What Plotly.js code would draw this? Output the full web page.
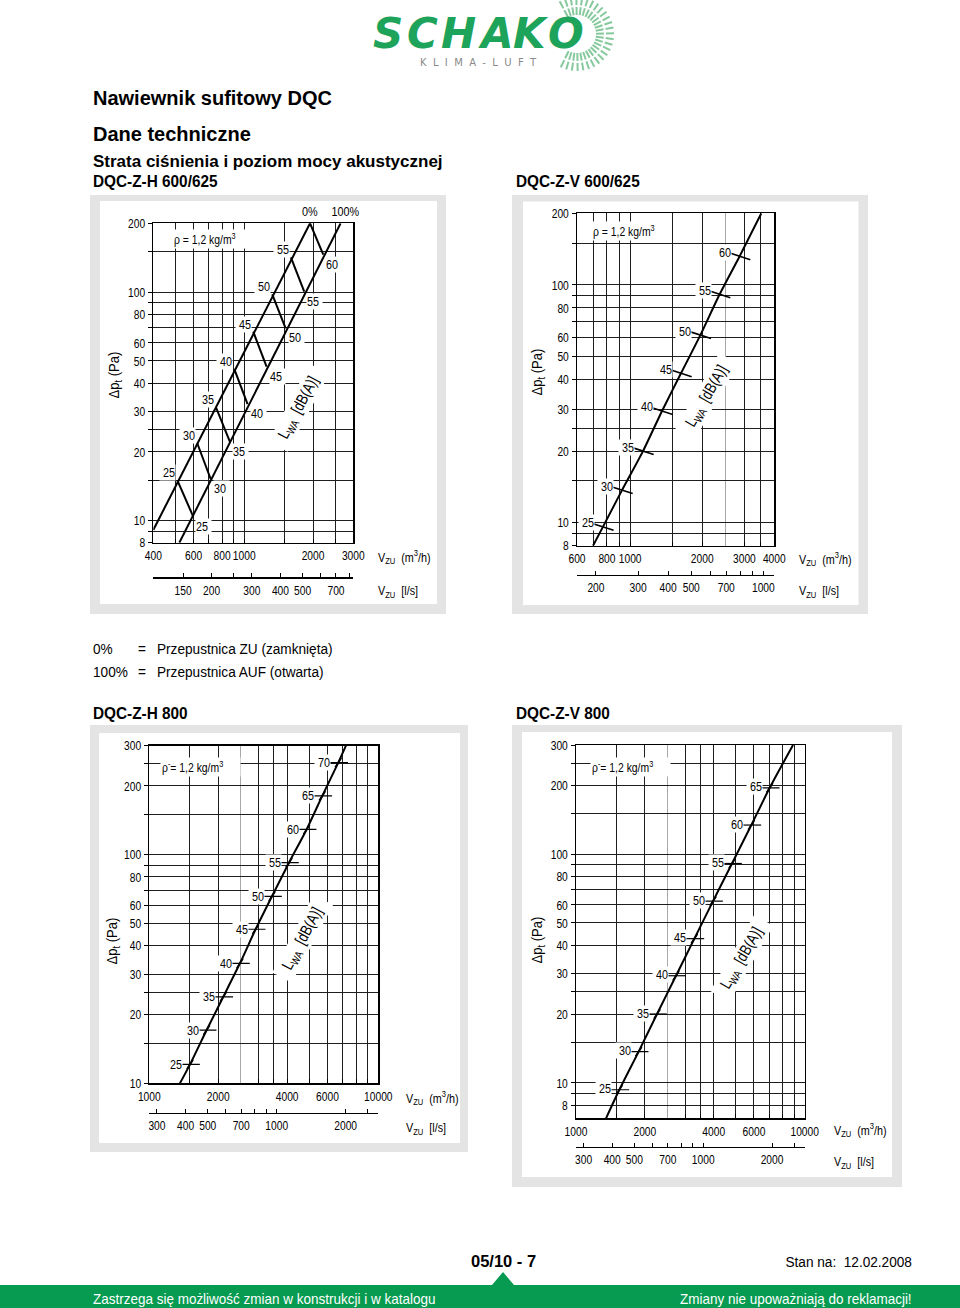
<!DOCTYPE html>
<html><head><meta charset="utf-8">
<script src="https://cdn.plot.ly/plotly-3.0.1.min.js"></script>
<style>
html,body{margin:0;padding:0;background:#fff}
#chart{width:960px;height:1308px}
</style>
</head><body><div id="chart"></div>
<script>
// ---------- DATA ----------
// DQC-Z-H 600/625 (two damper positions, 0% = closed, 100% = open)
const h600Levels   = [25, 30, 35, 40, 45, 50, 55, 60];
const h600ClosedV  = [510, 623, 752, 904, 1095, 1326, 1600, 1940];
const h600ClosedP  = [15.0, 21.8, 31.3, 46.1, 67.1, 97.8, 142, 200];
const h600OpenV    = [598, 713, 866, 1034, 1252, 1517, 1830, 2217];
const h600OpenP    = [10.4, 15.2, 22.1, 32.3, 47.2, 69.4, 100.4, 146];
const h600ClosedLineV = [400, 1940];
const h600ClosedLineP = [9.1, 200];
const h600OpenLineV   = [520, 2640];
const h600OpenLineP   = [8, 200];

// DQC-Z-V 600/625
const v600Levels = [25, 30, 35, 40, 45, 50, 55, 60];
const v600V      = [770, 925, 1132, 1359, 1631, 1965, 2365, 2867];
const v600P      = [9.6, 13.7, 20.0, 29.5, 42.5, 61.5, 91.3, 132];
const v600CurveV = [700, 770, 925, 1132, 1359, 1631, 1965, 2365, 2867, 3530];
const v600CurveP = [8, 9.6, 13.7, 20.0, 29.5, 42.5, 61.5, 91.3, 132, 200];

// DQC-Z-H 800
const h800Levels = [25, 30, 35, 40, 45, 50, 55, 60, 65, 70];
const h800V      = [1506, 1780, 2104, 2488, 2913, 3434, 4073, 4864, 5693, 6688];
const h800P      = [12.1, 17.1, 23.9, 33.5, 47.2, 65.8, 92.3, 129, 181, 253];
const h800CurveV = [1361, 1506, 1780, 2104, 2488, 2913, 3434, 4073, 4864, 5693, 6688, 7224];
const h800CurveP = [10, 12.1, 17.1, 23.9, 33.5, 47.2, 65.8, 92.3, 129, 181, 253, 300];

// DQC-Z-V 800
const v800Levels = [25, 30, 35, 40, 45, 50, 55, 60, 65];
const v800V      = [1547, 1879, 2261, 2737, 3293, 3973, 4810, 5845, 7030];
const v800P      = [9.33, 13.7, 20.0, 29.4, 42.7, 62.3, 91.0, 134, 195];
const v800CurveV = [1353, 1547, 1879, 2261, 2737, 3293, 3973, 4810, 5845, 7030, 8892];
const v800CurveP = [7, 9.33, 13.7, 20.0, 29.4, 42.7, 62.3, 91.0, 134, 195, 300];

// axis ticks / grids
const h600XGrid = [400, 500, 600, 700, 800, 900, 1000, 1500, 2000, 2500, 3000];
const h600XLabels = [400, 600, 800, 1000, 2000, 3000];
const smallYGrid = [8, 9, 10, 15, 20, 25, 30, 40, 50, 60, 70, 80, 90, 100, 150, 200];
const smallYLabels = [8, 10, 20, 30, 40, 50, 60, 80, 100, 200];
const h600LsTicks = [150, 200, 250, 300, 400, 500, 600, 700, 800];
const h600LsLabels = [150, 200, 300, 400, 500, 700];

const v600XGrid = [600, 700, 800, 900, 1000, 1500, 2000, 3000, 3500, 4000];
const v600XGrey = [2500];
const v600XLabels = [600, 800, 1000, 2000, 3000, 4000];
const v600LsTicks = [200, 300, 400, 500, 600, 700, 800, 900, 1000];
const v600LsLabels = [200, 300, 400, 500, 700, 1000];

const bigXGrid = [1000, 1500, 2000, 3000, 3500, 4000, 5000, 6000, 7000, 8000, 9000, 10000];
const bigXGrey = [2500];
const bigXLabels = [1000, 2000, 4000, 6000, 10000];
const h800YGrid = [10, 15, 20, 25, 30, 40, 50, 60, 70, 80, 90, 100, 150, 200, 250, 300];
const h800YLabels = [10, 20, 30, 40, 50, 60, 80, 100, 200, 300];
const v800YGrid = [8, 9, 10, 15, 20, 25, 30, 40, 50, 60, 70, 80, 90, 100, 150, 200, 250, 300];
const v800YLabels = [8, 10, 20, 30, 40, 50, 60, 80, 100, 200, 300];
const bigLsTicks = [300, 400, 500, 600, 700, 800, 900, 1000, 2000, 2500];
const bigLsLabels = [300, 400, 500, 700, 1000, 2000];
const M3H_PER_LS = 3.6;

// ---------- LAYOUT HELPERS ----------
const W = 960, H = 1308;
const FONT = "Liberation Sans, Arial, Helvetica, sans-serif";
const INK = '#000';
const fx = x => x / W, fy = y => 1 - y / H;
const L10 = Math.log10;
const TF = 13.5;           // tick font size
const LF = 13.5;           // curve label font size
const SQUEEZE_TICK = 0.76; // horizontal condensing (reference uses a condensed face)
const SQUEEZE_ANN = 0.8;

const charts = [
  {n:1, l:153.3, r:353.3, t:223.3, b:542.7, xr:[400,3000], yr:[8,200], lsY:577.3,
   xGrid:h600XGrid, xGrey:[], xLab:h600XLabels, yGrid:smallYGrid, yLab:smallYLabels,
   ls:h600LsTicks, lsLab:h600LsLabels, frame:[90,195,446,614], inner:[100,201,437,604],
   unitX:376, unitY1:557, unitY2:591, ptX:115, ptY:375, rho:[172,239,'ρ = 1,2 kg/m<sup>3</sup>'], lwa:[298,408,-62]},
  {n:2, l:577, r:774.3, t:213.3, b:545.7, xr:[600,4000], yr:[8,200], lsY:575,
   xGrid:v600XGrid, xGrey:v600XGrey, xLab:v600XLabels, yGrid:smallYGrid, yLab:smallYLabels,
   ls:v600LsTicks, lsLab:v600LsLabels, frame:[512,195,868,614], inner:[523,201.5,858.5,605],
   unitX:797, unitY1:559, unitY2:591, ptX:538, ptY:372, rho:[591,231,'ρ = 1,2 kg/m<sup>3</sup>'], lwa:[707,397,-60]},
  {n:3, l:149.3, r:378.3, t:745.7, b:1083.3, xr:[1000,10000], yr:[10,300], lsY:1112.7,
   xGrid:bigXGrid, xGrey:bigXGrey, xLab:bigXLabels, yGrid:h800YGrid, yLab:h800YLabels,
   ls:bigLsTicks, lsLab:bigLsLabels, frame:[90,725,468,1152], inner:[99,733,460,1143],
   unitX:404, unitY1:1098, unitY2:1128, ptX:113, ptY:941, rho:[160,767,'ρ<sup>-</sup>= 1,2 kg/m<sup>3</sup>'], lwa:[302,939,-62]},
  {n:4, l:576, r:804.7, t:745, b:1118.3, xr:[1000,10000], yr:[7,300], lsY:1146.7,
   xGrid:bigXGrid, xGrey:bigXGrey, xLab:bigXLabels, yGrid:v800YGrid, yLab:v800YLabels,
   ls:bigLsTicks, lsLab:bigLsLabels, frame:[512,725,902,1187], inner:[522,732,892,1177],
   unitX:832, unitY1:1130, unitY2:1162, ptX:538, ptY:940, rho:[590,767,'ρ<sup>-</sup>= 1,2 kg/m<sup>3</sup>'], lwa:[742,959,-60]}
];

const shapes = [], annotations = [], traces = [];
const squeezeMap = new Map();   // annotation index -> horizontal scale
const layout = {
  width: W, height: H, margin: {l:0, r:0, t:0, b:0, pad:0}, autosize: false,
  paper_bgcolor: '#fff', plot_bgcolor: 'rgba(0,0,0,0)', showlegend: false,
  font: {family: FONT, size: TF, color: INK}
};

function txt(text, x, y, size, opts, squeeze) {
  const o = Object.assign({text, x: fx(x), y: fy(y), xref:'paper', yref:'paper',
    showarrow:false, xanchor:'left', yanchor:'middle', align:'left',
    font:{family:FONT, size, color:INK}}, opts || {});
  if (o.xanchor === 'right' && !(opts && opts.align)) o.align = 'right';
  if (o.xanchor === 'center' && !(opts && opts.align)) o.align = 'center';
  if (squeeze) squeezeMap.set(annotations.length, squeeze);
  annotations.push(o);
}
const tt = (vals, labs) => vals.map(v => labs.includes(v) ? String(v) : '');

charts.forEach(c => {
  const id = c.n === 1 ? '' : String(c.n);
  const lsId = String(c.n + 4);
  shapes.push({type:'rect', xref:'paper', yref:'paper', x0:fx(c.frame[0]), x1:fx(c.frame[2]),
    y0:fy(c.frame[3]), y1:fy(c.frame[1]), fillcolor:'#e4e4e4', line:{width:0}, layer:'below'});
  shapes.push({type:'rect', xref:'paper', yref:'paper', x0:fx(c.inner[0]), x1:fx(c.inner[2]),
    y0:fy(c.inner[3]), y1:fy(c.inner[1]), fillcolor:'#ffffff', line:{width:0}, layer:'below'});

  layout['xaxis' + id] = {
    type:'log', range:[L10(c.xr[0]), L10(c.xr[1])], domain:[fx(c.l), fx(c.r)], anchor:'y' + id,
    tickmode:'array', tickvals:c.xGrid, ticktext:tt(c.xGrid, c.xLab), tickangle:0,
    showgrid:true, gridcolor:'#1e1e1e', gridwidth:1,
    minor:{tickmode:'array', tickvals:c.xGrey, showgrid:true, gridcolor:'#a8a8a8', gridwidth:1, ticks:''},
    ticks:'inside', ticklen:4, tickcolor:'#000', tickwidth:1,
    showline:true, mirror:true, linecolor:'#000', linewidth:1.5, zeroline:false,
    tickfont:{family:FONT, size:TF, color:INK}, fixedrange:true
  };
  layout['yaxis' + id] = {
    type:'log', range:[L10(c.yr[0]), L10(c.yr[1])], domain:[fy(c.b), fy(c.t)], anchor:'x' + id,
    tickmode:'array', tickvals:c.yGrid, ticktext:tt(c.yGrid, c.yLab), tickangle:0,
    showgrid:true, gridcolor:'#1e1e1e', gridwidth:1,
    ticks:'outside', ticklen:4, tickcolor:'#000', tickwidth:1,
    showline:true, mirror:true, linecolor:'#000', linewidth:1.5, zeroline:false,
    tickfont:{family:FONT, size:TF, color:INK}, fixedrange:true
  };
  layout['xaxis' + lsId] = {
    type:'log', overlaying:'x' + id, anchor:'free', position:fy(c.lsY), side:'bottom',
    range:[L10(c.xr[0] / M3H_PER_LS), L10(c.xr[1] / M3H_PER_LS)],
    tickmode:'array', tickvals:c.ls, ticktext:tt(c.ls, c.lsLab), tickangle:0,
    showgrid:false, ticks:'inside', ticklen:4, tickcolor:'#000',
    showline:true, linecolor:'#000', linewidth:1.2, zeroline:false,
    tickfont:{family:FONT, size:TF, color:INK}, fixedrange:true
  };
  // invisible carrier so that the l/s axis is created and drawn
  traces.push({x:c.ls, y:c.ls.map(() => null), xaxis:'x' + lsId, yaxis:'y' + id,
    mode:'markers', marker:{opacity:0}, hoverinfo:'skip'});

  txt('V<sub>ZU</sub>  (m<sup>3</sup>/h)', c.unitX, c.unitY1, 13.5, null, SQUEEZE_ANN);
  txt('V<sub>ZU</sub>  [l/s]', c.unitX, c.unitY2, 13.5, null, SQUEEZE_ANN);
  txt('Δp<sub>t</sub> (Pa)', c.ptX, c.ptY, 14.5, {xanchor:'center', textangle:-90}, 0.9);
  txt(c.rho[2], c.rho[0], c.rho[1], 13, {bgcolor:'#fff'}, SQUEEZE_ANN);
  txt('L<sub>WA</sub>  [dB(A)]', c.lwa[0], c.lwa[1], 16, {xanchor:'center', textangle:c.lwa[2], bgcolor:'#fff'}, SQUEEZE_ANN);
});

// ---------- TRACES ----------
const lineStyle = {color:'#000', width:2};
traces.push({x:h600ClosedLineV, y:h600ClosedLineP, xaxis:'x', yaxis:'y', mode:'lines', line:lineStyle, hoverinfo:'skip'});
traces.push({x:h600OpenLineV, y:h600OpenLineP, xaxis:'x', yaxis:'y', mode:'lines', line:lineStyle, hoverinfo:'skip'});
traces.push({
  x: h600Levels.flatMap((_, i) => [h600ClosedV[i], h600OpenV[i], null]),
  y: h600Levels.flatMap((_, i) => [h600ClosedP[i], h600OpenP[i], null]),
  xaxis:'x', yaxis:'y', mode:'lines', line:lineStyle, hoverinfo:'skip', connectgaps:false
});
const lab = (t, v, p, xref, yref, o) => {
  squeezeMap.set(annotations.length, SQUEEZE_ANN);
  const a = Object.assign({text:String(t), x:L10(v), y:L10(p), xref, yref, showarrow:false,
    font:{family:FONT, size:LF, color:INK}, bgcolor:'#fff', borderpad:0}, o);
  a.align = a.xanchor === 'right' ? 'right' : (a.xanchor === 'left' ? 'left' : 'center');
  annotations.push(a);
};
h600Levels.forEach((d, i) => {
  if (i < h600Levels.length - 1)
    lab(d, h600ClosedV[i], h600ClosedP[i], 'x', 'y', {xanchor:'right', yanchor:'bottom', xshift:-1, yshift:-1});
  lab(d, h600OpenV[i], h600OpenP[i], 'x', 'y', {xanchor:'left', yanchor:'top', xshift:2, yshift:-1});
});
lab('0%', h600ClosedLineV[1], h600ClosedLineP[1], 'x', 'y', {xanchor:'center', yanchor:'bottom', yshift:3, bgcolor:'rgba(0,0,0,0)'});
lab('100%', h600OpenLineV[1], h600OpenLineP[1], 'x', 'y', {xanchor:'center', yanchor:'bottom', yshift:3, xshift:5, bgcolor:'rgba(0,0,0,0)'});

const single = [
  {xs:'x2', ys:'y2', cv:v600CurveV, cp:v600CurveP, lv:v600Levels, v:v600V, p:v600P, ang:18, size:16, sym:'line-ew', xsh:-8, ysh:4},
  {xs:'x3', ys:'y3', cv:h800CurveV, cp:h800CurveP, lv:h800Levels, v:h800V, p:h800P, ang:34, size:8, sym:'line-ns', xsh:-7, ysh:0},
  {xs:'x4', ys:'y4', cv:v800CurveV, cp:v800CurveP, lv:v800Levels, v:v800V, p:v800P, ang:34, size:8, sym:'line-ns', xsh:-7, ysh:1}
];
single.forEach(s => {
  traces.push({x:s.cv, y:s.cp, xaxis:s.xs, yaxis:s.ys, mode:'lines', line:Object.assign({shape:'spline', smoothing:0.6}, lineStyle), hoverinfo:'skip'});
  traces.push({x:s.v, y:s.p, xaxis:s.xs, yaxis:s.ys, mode:'markers', hoverinfo:'skip',
    marker:{symbol:s.sym, size:s.size, angle:s.ang, color:'#000', line:{color:'#000', width:1.6}}});
  if (s.sym === 'line-ns')
    traces.push({x:s.v, y:s.p, xaxis:s.xs, yaxis:s.ys, mode:'markers', hoverinfo:'skip',
      marker:{symbol:'line-ew', size:14, angle:0, color:'#000', line:{color:'#000', width:1.2}}});
  s.lv.forEach((d, i) => lab(d, s.v[i], s.p[i], s.xs, s.ys, {xanchor:'right', yanchor:'middle', xshift:s.xsh, yshift:s.ysh}));
});

// ---------- PAGE TEXT ----------
txt('<b>Nawiewnik sufitowy DQC</b>', 91, 98, 20);
txt('<b>Dane techniczne</b>', 91, 134, 20);
txt('<b>Strata ciśnienia i poziom mocy akustycznej</b>', 91, 161, 17);
txt('<b>DQC-Z-H 600/625</b>', 91, 181, 16, null, 0.96);
txt('<b>DQC-Z-V 600/625</b>', 514, 181, 16, null, 0.96);
txt('0%', 91, 648, 15.5, null, 0.88);
txt('=', 136, 648, 15.5, null, 0.88);
txt('Przepustnica ZU (zamknięta)', 155, 648, 15.5, null, 0.88);
txt('100%', 91, 671, 15.5, null, 0.88);
txt('=', 136, 671, 15.5, null, 0.88);
txt('Przepustnica AUF (otwarta)', 155, 671, 15.5, null, 0.88);
txt('<b>DQC-Z-H 800</b>', 91, 713, 16, null, 0.96);
txt('<b>DQC-Z-V 800</b>', 514, 713, 16, null, 0.96);

// footer
txt('<b>05/10 - 7</b>', 503, 1261, 16.5, {xanchor:'center'});
txt('Stan na:  12.02.2008', 914, 1261, 15.5, {xanchor:'right'}, 0.88);
const GREEN = '#079a51';
shapes.push({type:'path', xref:'paper', yref:'paper',
  path:`M ${fx(0)} ${fy(1285)} L ${fx(492)} ${fy(1285)} L ${fx(503)} ${fy(1272)} L ${fx(514)} ${fy(1285)} L ${fx(960)} ${fy(1285)} L ${fx(960)} ${fy(1308)} L ${fx(0)} ${fy(1308)} Z`,
  fillcolor:GREEN, line:{width:0}, layer:'below'});
txt('Zastrzega się możliwość zmian w konstrukcji i w katalogu', 91, 1298, 15, {font:{family:FONT, size:15, color:'#fff'}}, 0.9);
txt('Zmiany nie upoważniają do reklamacji!', 914, 1298, 15, {xanchor:'right', font:{family:FONT, size:15, color:'#fff'}}, 0.9);

// logo
const LOGO_GREEN = '#1ea35a';
const sunC = [577, 34];
for (let a = -118; a <= 118; a += 9) {
  const r = a * Math.PI / 180;
  const c = Math.cos(r), s = Math.sin(r);
  [[19, 27], [29, 37]].forEach(([r1, r2]) => shapes.push({type:'line', xref:'paper', yref:'paper',
    x0:fx(sunC[0] + r1 * c), y0:fy(sunC[1] + r1 * s), x1:fx(sunC[0] + r2 * c), y1:fy(sunC[1] + r2 * s),
    line:{color:'#86c99c', width:2}}));
}
[['S',388],['C',422],['H',458],['A',496],['K',531],['O',566]].forEach(([ch, x]) =>
  annotations.push({text:'<b><i>' + ch + '</i></b>', x:fx(x), y:fy(34), xref:'paper', yref:'paper',
    showarrow:false, xanchor:'center', yanchor:'middle', font:{family:'DejaVu Sans', size:42, color:LOGO_GREEN}}));
txt('K  L  I  M  A  -  L  U  F  T', 478, 63, 10, {xanchor:'center', font:{family:'DejaVu Sans', size:10, color:'#8a8a8a'}});

layout.shapes = shapes;
layout.annotations = annotations;

function squeeze(el, s) {
  const x = parseFloat(el.getAttribute('x') || '0') || 0;
  const t = el.getAttribute('transform') || '';
  el.setAttribute('transform', `${t} translate(${x},0) scale(${s},1) translate(${-x},0)`);
}
Plotly.newPlot('chart', traces, layout, {staticPlot:true, displayModeBar:false}).then(gd => {
  gd.querySelectorAll('g[class$="tick"] > text').forEach(el => squeeze(el, SQUEEZE_TICK));
  gd.querySelectorAll('g.annotation').forEach(g => {
    const i = +g.getAttribute('data-index');
    if (squeezeMap.has(i)) g.querySelectorAll('text').forEach(el => squeeze(el, squeezeMap.get(i)));
  });
});
</script></body></html>
